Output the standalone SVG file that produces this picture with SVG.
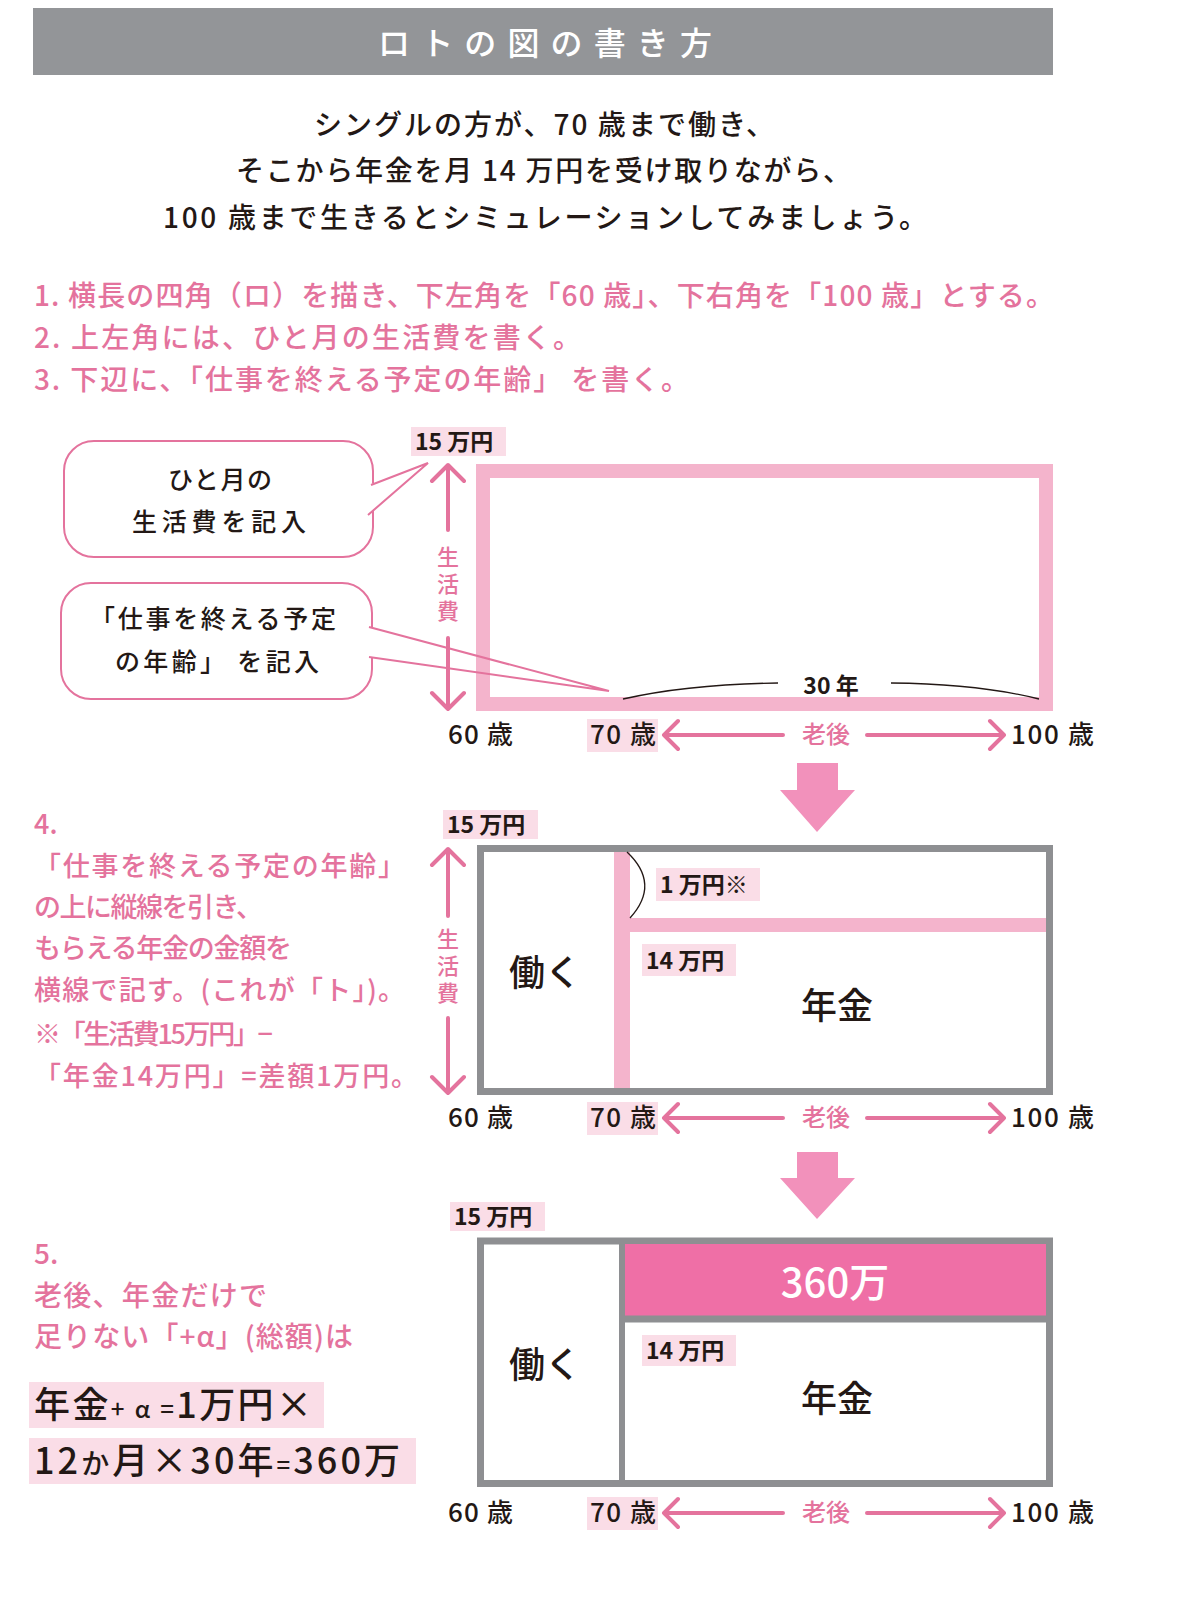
<svg xmlns="http://www.w3.org/2000/svg" width="1200" height="1597" viewBox="0 0 1200 1597">
<defs>
<style>
text{font-family:"Noto Sans CJK JP","Noto Sans",sans-serif;}
.title{font-size:32px;font-weight:500;fill:#ffffff;}
.intro{font-size:28px;font-weight:500;fill:#231815;}
.step{font-size:28px;font-weight:500;fill:#e4739d;}
.step4{font-size:27px;font-weight:500;fill:#e4739d;}
.bub{font-size:25px;font-weight:500;fill:#231815;}
.lbl{font-size:23px;font-weight:700;fill:#231815;}
.lblbg{fill:#fadde7;}
.age{font-size:26px;font-weight:500;fill:#231815;}
.rougo{font-size:24px;font-weight:500;fill:#e4739d;text-anchor:middle;}
.vlab{font-size:22px;font-weight:500;fill:#e4739d;writing-mode:vertical-rl;letter-spacing:5px;}
.big{font-size:36px;font-weight:500;fill:#231815;text-anchor:middle;}
.formula{font-size:36px;font-weight:500;fill:#231815;}
.pline{stroke:#e4739d;stroke-width:4;fill:none;stroke-linecap:round;stroke-linejoin:round;}
.bubble{fill:#ffffff;stroke:#e4739d;stroke-width:2;}
.gbox{fill:#ffffff;stroke:#8e8f92;stroke-width:7;}
.thin{fill:none;stroke:#231815;stroke-width:1.3;}
.darrow{fill:#f291bb;}
</style>
<g id="ageRow">
<text class="age" x="448" y="9" textLength="65">60 歳</text>
<rect class="lblbg" x="587" y="-16" width="71" height="33"/>
<text class="age" x="590" y="9" textLength="66">70 歳</text>
<path class="pline" d="M664 0 H783 M867 0 H1004 M678 -14 L664 0 L678 14 M990 -14 L1004 0 L990 14"/>
<text class="rougo" x="826" y="8">老後</text>
<text class="age" x="1011" y="9" textLength="83">100 歳</text>
</g>
</defs>
<rect width="1200" height="1597" fill="#ffffff"/>

<g id="header">
<rect x="33" y="8" width="1020" height="67" fill="#939598"/>
<text class="title" x="378" y="55" textLength="334">ロトの図の書き方</text>
</g>

<g id="intro">
<text class="intro" x="314" y="135" textLength="460">シングルの方が、70 歳まで働き、</text>
<text class="intro" x="236" y="181" textLength="615">そこから年金を月 14 万円を受け取りながら、</text>
<text class="intro" x="163" y="228" textLength="764">100 歳まで生きるとシミュレーションしてみましょう。</text>
</g>

<g id="steps123">
<text class="step" x="34" y="306" textLength="1020">1. 横長の四角（ロ）を描き、下左角を「60 歳」、下右角を「100 歳」とする。</text>
<text class="step" x="34" y="348" textLength="547">2. 上左角には、ひと月の生活費を書く。</text>
<text class="step" x="34" y="390" textLength="655">3. 下辺に、「仕事を終える予定の年齢」 を書く。</text>
</g>

<!-- Diagram 1 -->
<g id="diagram1">
<rect x="483" y="471" width="563" height="233" fill="none" stroke="#f4b4cc" stroke-width="14"/>
<rect class="lblbg" x="411" y="427" width="95" height="29"/>
<text class="lbl" x="415" y="450">15 万円</text>
<path class="pline" d="M448 465 V530 M448 638 V709 M432 481 L448 465 L464 481 M432 693 L448 709 L464 693"/>
<text class="vlab" x="448" y="546">生活費</text>
<path class="thin" d="M623 699 Q 690 684 778 683 M891 683 Q 980 684 1039 699"/>
<text class="lbl" x="831" y="694" text-anchor="middle" font-weight="500" font-size="25">30 年</text>
<use href="#ageRow" y="735"/>
</g>

<g id="callout1">
<rect class="bubble" x="64" y="441" width="309" height="116" rx="30"/>
<polygon points="366,486 428,463 366,516" fill="#ffffff"/>
<polyline points="371,485 428,463 368,515" fill="none" stroke="#e4739d" stroke-width="2"/>
<text class="bub" x="168" y="489" textLength="104">ひと月の</text>
<text class="bub" x="132" y="531" textLength="174">生活費を記入</text>
</g>

<g id="callout2">
<rect class="bubble" x="61" y="583" width="311" height="116" rx="30"/>
<polygon points="365,626 380,630 380,659 365,656" fill="#ffffff"/>
<polyline points="369,627 609,691 369,657" fill="none" stroke="#e4739d" stroke-width="2"/>
<text class="bub" x="90" y="628" textLength="246">「仕事を終える予定</text>
<text class="bub" x="115" y="671" textLength="204">の年齢」 を記入</text>
</g>

<g id="downArrow1">
<polygon class="darrow" points="797,763 838,763 838,790 855,790 817,832 780,790 797,790"/>
</g>

<!-- Step 4 text -->
<g id="step4">
<text class="step4" x="34" y="834">4.</text>
<text class="step4" x="34" y="876" textLength="371">「仕事を終える予定の年齢」</text>
<text class="step4" x="34" y="917" textLength="229">の上に縦線を引き、</text>
<text class="step4" x="34" y="958" textLength="258">もらえる年金の金額を</text>
<text class="step4" x="34" y="1000" textLength="371">横線で記す。(これが「ト」)。</text>
<text class="step4" x="34" y="1044" textLength="239">※「生活費15万円」−</text>
<text class="step4" x="34" y="1086" textLength="384">「年金14万円」=差額1万円。</text>
</g>

<!-- Diagram 2 -->
<g id="diagram2">
<rect class="gbox" x="480.5" y="848.5" width="569" height="243"/>
<rect x="614" y="852" width="16" height="236" fill="#f4b4cc"/>
<rect x="630" y="918" width="416" height="14" fill="#f4b4cc"/>
<path class="thin" d="M627 852 Q 661 884 630 918"/>
<rect class="lblbg" x="443" y="810" width="95" height="29"/>
<text class="lbl" x="447" y="833">15 万円</text>
<path class="pline" d="M448 849 V916 M448 1018 V1093 M432 865 L448 849 L464 865 M432 1077 L448 1093 L464 1077"/>
<text class="vlab" x="448" y="928">生活費</text>
<rect class="lblbg" x="656" y="868" width="104" height="33"/>
<text class="lbl" x="660" y="893">1 万円※</text>
<rect class="lblbg" x="642" y="944" width="94" height="32"/>
<text class="lbl" x="646" y="969">14 万円</text>
<text class="big" x="545" y="986">働く</text>
<text class="big" x="837" y="1019">年金</text>
<use href="#ageRow" y="1118"/>
</g>

<g id="downArrow2">
<polygon class="darrow" points="797,1152 838,1152 838,1178 855,1178 817,1219 780,1178 797,1178"/>
</g>

<!-- Step 5 text -->
<g id="step5">
<text class="step" x="34" y="1264">5.</text>
<text class="step" x="34" y="1306" textLength="233">老後、年金だけで</text>
<text class="step" x="34" y="1347" textLength="319">足りない「+α」(総額)は</text>
<rect class="lblbg" x="29" y="1382" width="295" height="46"/>
<text class="formula" x="34" y="1418" textLength="278">年金<tspan font-size="24">+ α =</tspan>1万円×</text>
<rect class="lblbg" x="29" y="1438" width="387" height="46"/>
<text class="formula" x="34" y="1474" textLength="366">12<tspan font-size="28">か</tspan>月×30年<tspan font-size="24">=</tspan>360万</text>
</g>

<!-- Diagram 3 -->
<g id="diagram3">
<rect class="gbox" x="480.5" y="1241" width="569" height="242.5"/>
<rect x="625" y="1244" width="421" height="72" fill="#ef6fa6"/>
<line x1="622" y1="1241" x2="622" y2="1483" stroke="#8e8f92" stroke-width="6"/>
<line x1="622" y1="1319" x2="1046" y2="1319" stroke="#8e8f92" stroke-width="7"/>
<text x="835" y="1297" text-anchor="middle" font-size="40" font-weight="500" fill="#ffffff">360万</text>
<rect class="lblbg" x="450" y="1202" width="95" height="29"/>
<text class="lbl" x="454" y="1225">15 万円</text>
<rect class="lblbg" x="642" y="1335" width="94" height="31"/>
<text class="lbl" x="646" y="1359">14 万円</text>
<text class="big" x="545" y="1378">働く</text>
<text class="big" x="837" y="1412">年金</text>
<use href="#ageRow" y="1513"/>
</g>
</svg>
